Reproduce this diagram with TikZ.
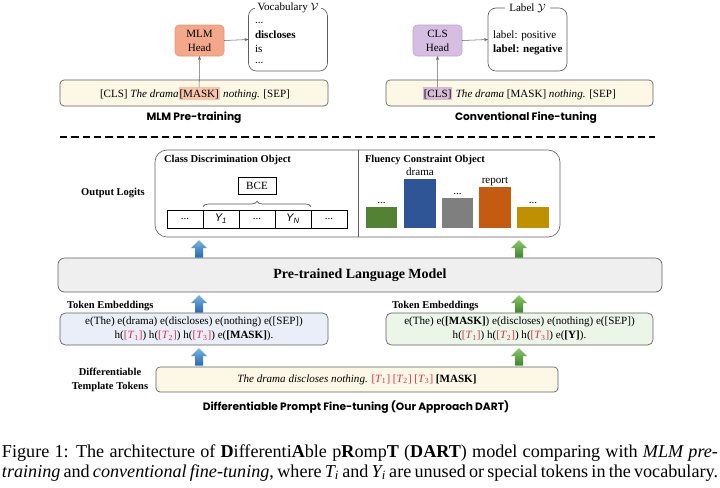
\documentclass[tikz,border=0pt]{standalone}
\usepackage{fontspec}
\setmainfont{Liberation Serif}
\newfontfamily\titlefont{Poppins}
\newfontfamily\sansf{Liberation Sans}
\usetikzlibrary{decorations.pathreplacing,arrows.meta}

\definecolor{mlmfill}{RGB}{243,168,138}
\definecolor{mlmdraw}{RGB}{228,150,120}
\definecolor{maskhl}{RGB}{246,196,170}
\definecolor{clsfill}{RGB}{214,190,226}
\definecolor{clsdraw}{RGB}{190,165,205}
\definecolor{clshl}{RGB}{214,186,214}
\definecolor{creamfill}{RGB}{253,247,230}
\definecolor{boxdraw}{RGB}{95,95,95}
\definecolor{embblue}{RGB}{233,238,248}
\definecolor{embgreen}{RGB}{235,245,232}
\definecolor{plmfill}{RGB}{239,239,239}
\definecolor{tred}{RGB}{215,45,75}
\definecolor{bgreen}{RGB}{84,130,53}
\definecolor{bblue}{RGB}{47,85,151}
\definecolor{bgray}{RGB}{127,127,127}
\definecolor{borange}{RGB}{197,90,17}
\definecolor{bgold}{RGB}{191,144,0}
\definecolor{arbluetop}{RGB}{120,180,230}
\definecolor{arbluebot}{RGB}{40,105,175}
\definecolor{argreentop}{RGB}{140,200,105}
\definecolor{argreenbot}{RGB}{60,135,45}

\newcommand{\fsbody}{\fontsize{8.3pt}{10.5pt}\selectfont}
\newcommand{\fslab}{\fontsize{7.9pt}{10.5pt}\selectfont\bfseries}
\newcommand{\fsplm}{\fontsize{10.5pt}{12pt}\selectfont\bfseries}
\newcommand{\fstitle}{\fontsize{8pt}{10pt}\selectfont\titlefont\bfseries}
\newcommand{\fscap}{\fontsize{13.6pt}{15pt}\selectfont}
\newcommand{\Tk}[1]{\textcolor{tred}{[\textit{T}\textsubscript{#1}]}}
\newcommand{\blockarrow}[5]{%
  \shade[top color=#4, bottom color=#5]
    ({#1-4},{#2}) -- ({#1-4},{#3+8}) -- ({#1-8},{#3+8}) -- ({#1},{#3})
    -- ({#1+8},{#3+8}) -- ({#1+4},{#3+8}) -- ({#1+4},{#2}) -- cycle;}

\begin{document}
\begin{tikzpicture}[x=0.75pt,y=-0.75pt,
  every node/.style={inner sep=0pt, outer sep=0pt, font=\fsbody},
  headbox/.style={rounded corners=3pt, minimum width=36.75pt, minimum height=23.25pt, align=center, line width=0.4pt},
  listbox/.style={draw=boxdraw, rounded corners=6pt, minimum width=59.25pt, minimum height=47.25pt, line width=0.5pt, fill=white},
  inbar/.style={draw=boxdraw, rounded corners=3pt, fill=creamfill, minimum height=19.5pt, line width=0.5pt},
  thinarrow/.style={-{Stealth[length=3pt,width=2.4pt]}, draw=gray!80!black, line width=0.4pt},
  sectitle/.style={font=\fstitle},
  lab/.style={font=\fslab},
  cell/.style={draw=black, line width=0.4pt, minimum width=27pt, minimum height=13.5pt},
  embbox/.style={draw=boxdraw, rounded corners=4pt, minimum width=201pt, minimum height=24pt, align=center, line width=0.5pt, font=\fontsize{8.3pt}{10.5pt}\selectfont}
]
\useasboundingbox (0,0) rectangle (720,487);

% ---------- MLM pre-training ----------
\node[inbar, minimum width=201pt] (inL) at (194,93) {};
\node[anchor=base west] (inL1) at (100,97) {[CLS] \textit{The drama}\ };
\node[anchor=base west, fill=maskhl, inner xsep=0.6pt, inner ysep=1.5pt] (mask) at (inL1.base east) {[MASK]};
\node[anchor=base west] (inL2) at ([xshift=0.6pt]mask.base east) {\ \textit{nothing.} [SEP]};
\node[headbox, fill=mlmfill, draw=mlmdraw] (mlmhead) at (199.5,40.5) {MLM\\Head};
\node[listbox] (vocab) at (288,39.5) {};
\node[fill=white, inner xsep=2pt, inner ysep=1pt] (vocabt) at (vocab.north) {Vocabulary $\mathcal{V}$};
\node[anchor=base west] (v1) at (255,23) {...};
\node[anchor=base west] (v2) at (255,38) {\textbf{discloses}};
\node[anchor=base west] (v3) at (255,52) {is};
\node[anchor=base west] (v4) at (255,63) {...};
\draw[thinarrow] (mask.north) -- (mlmhead.south);
\draw[thinarrow] (mlmhead.east) -- (vocab.west);
\node[sectitle] (t1) at (194,118) {MLM Pre-training};

% ---------- Conventional fine-tuning ----------
\node[inbar, minimum width=200.25pt] (inR) at (519.5,93) {};
\node[anchor=base west, fill=clshl, inner xsep=0.6pt, inner ysep=1.5pt] (cls) at (423,97) {[CLS]};
\node[anchor=base west] (inR1) at ([xshift=0.6pt]cls.base east) {\ \textit{The drama} [MASK] \textit{nothing.} [SEP]};
\node[headbox, fill=clsfill, draw=clsdraw] (clshead) at (437.5,40.5) {CLS\\Head};
\node[listbox] (labelbox) at (527.5,39.5) {};
\node[fill=white, inner xsep=3pt, inner ysep=1pt] (labelt) at (labelbox.north) {Label $\mathcal{Y}$};
\node[anchor=base west] (l1) at (493,38) {label: positive};
\node[anchor=base west] (l2) at (493,52) {\textbf{label: negative}};
\draw[thinarrow] (cls.north) -- (clshead.south);
\draw[thinarrow] (clshead.east) -- (labelbox.west);
\node[sectitle] (t2) at (526,118) {Conventional Fine-tuning};

% ---------- dashed separator ----------
\coordinate (d1) at (60,137);
\coordinate (d2) at (655,137);
\draw[line width=1.4pt, dash pattern=on 5.5pt off 3pt] (d1) -- (d2);

% ---------- Output logits ----------
\node[lab] (ol) at (113,193) {Output Logits};
\node[draw=boxdraw, rounded corners=9pt, minimum width=303.75pt, minimum height=65.25pt, line width=0.5pt] (outbox) at (357.5,193.5) {};
\draw[boxdraw, line width=0.5pt] (358,150) -- (358,237);
\node[lab, anchor=base west] (cdo) at (164,162) {Class Discrimination Object};
\node[lab, anchor=base west] (fco) at (365,162) {Fluency Constraint Object};
\node[cell] (c1) at (185,219) {...};
\node[cell] (c2) at (221,219) {{\sansf\itshape Y\textsubscript{1}}};
\node[cell] (c3) at (257,219) {...};
\node[cell] (c4) at (293,219) {{\sansf\itshape Y\textsubscript{N}}};
\node[cell] (c5) at (329,219) {...};
\node[draw=black, line width=0.4pt, minimum width=28.5pt, minimum height=12.75pt] (bce) at (257,185.5) {BCE};
\draw[decorate, decoration={brace, amplitude=4pt}, gray!70!black, line width=0.5pt]
  ([yshift=2.5pt]c2.north west) -- ([yshift=2.5pt]c4.north east);

% bars
\fill[bgreen]  (366,207) rectangle (397,228);
\fill[bblue]   (404,179) rectangle (436,228);
\fill[bgray]   (442,198) rectangle (473,228);
\fill[borange] (479,187) rectangle (511,228);
\fill[bgold]   (517,207) rectangle (549,228);
\node[anchor=south] (b1) at (381.5,204) {...};
\node[anchor=base] (b2) at (420,175) {drama};
\node[anchor=south] (b3) at (457.5,195) {...};
\node[anchor=base] (b4) at (495,183) {report};
\node[anchor=south] (b5) at (533,204) {...};

% ---------- PLM ----------
\node[draw=boxdraw, fill=plmfill, rounded corners=5pt, minimum width=453pt, minimum height=25.5pt, line width=0.5pt, font=\fsplm] (plm) at (360,275) {Pre-trained Language Model};

\blockarrow{199}{257.5}{240}{arbluetop}{arbluebot}
\blockarrow{519}{257.5}{240}{argreentop}{argreenbot}
\blockarrow{199}{312.5}{295}{arbluetop}{arbluebot}
\blockarrow{519}{312.5}{295}{argreentop}{argreenbot}
\blockarrow{199}{365.5}{348}{arbluetop}{arbluebot}
\blockarrow{519}{365.5}{348}{argreentop}{argreenbot}

% ---------- Token embeddings ----------
\node[lab, anchor=base west] (te1) at (67,308.5) {Token Embeddings};
\node[lab, anchor=base west] (te2) at (392,308.5) {Token Embeddings};
\node[embbox, fill=embblue] (embL) at (194,329)
  {e(The) e(drama) e(discloses) e(nothing) e([SEP])\\
   h(\Tk{1}) h(\Tk{2}) h(\Tk{3}) e(\textbf{[MASK]}).};
\node[embbox, fill=embgreen, minimum width=200.25pt] (embR) at (519.5,329)
  {e(The) e(\textbf{[MASK]}) e(discloses) e(nothing) e([SEP])\\
   h(\Tk{1}) h(\Tk{2}) h(\Tk{3}) e(\textbf{[Y]}).};

% ---------- Template ----------
\node[lab, align=center, font=\fontsize{7.9pt}{10.5pt}\selectfont\bfseries] (dtt) at (110,380) {Differentiable\\Template Tokens};
\node[inbar, minimum width=301.5pt, minimum height=18.75pt] (tmpl) at (357,379.5)
  {\textit{The drama discloses nothing.} \Tk{1} \Tk{2} \Tk{3} \textbf{[MASK]}};
\node[sectitle] (t3) at (356,407) {Differentiable Prompt Fine-tuning (Our Approach DART)};

% ---------- Caption ----------
\node[anchor=base west, font=\fscap] (cap1) at (2,457)
  {\hbox to 537pt{Figure~1: The architecture of \textbf{D}ifferenti\textbf{A}ble p\textbf{R}omp\textbf{T} (\textbf{DART}) model comparing with \textit{MLM pre-}}};
\node[anchor=base west, font=\fscap] (cap2) at (2,477)
  {\hbox to 537pt{\textit{training} and \textit{conventional fine-tuning}, where \textit{T\textsubscript{i}} and \textit{Y\textsubscript{i}} are unused or special tokens in the vocabulary.}};
\end{tikzpicture}
\end{document}
